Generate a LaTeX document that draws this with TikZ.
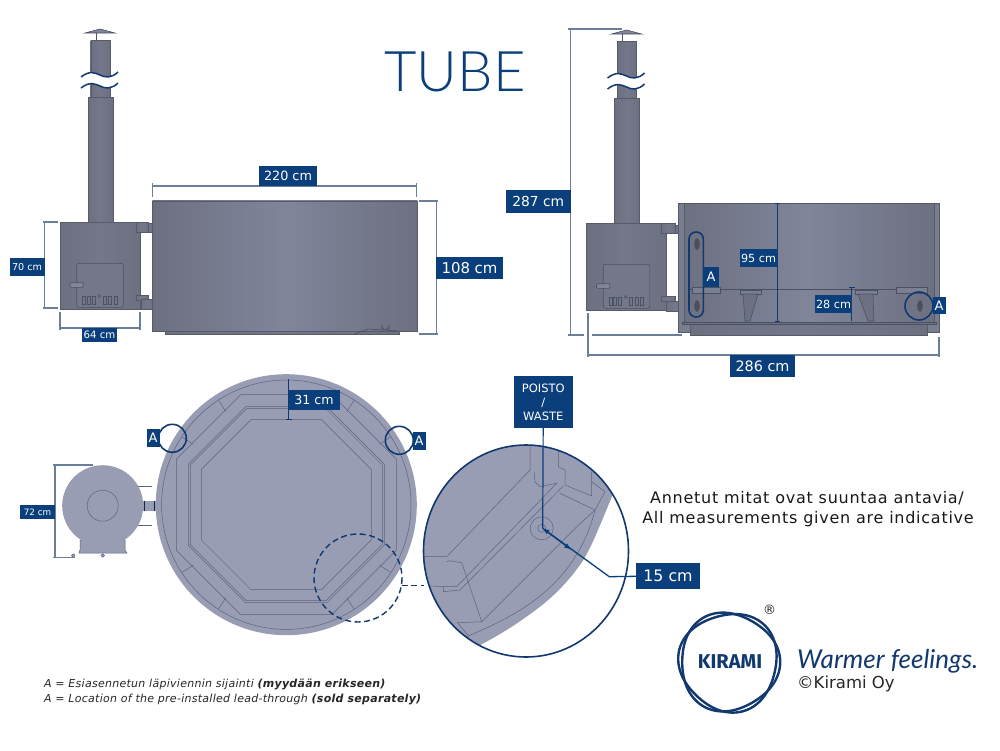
\documentclass[tikz,border=0pt]{standalone}
\usepackage{fontspec}
\setmainfont{DejaVu Sans}
\newfontfamily\titlefont{Lato}[UprightFont=* Light,ItalicFont=* Italic]
\newfontfamily\logofont{Fira Sans}
\usepackage{xcolor}
\usepackage{tikz}
\definecolor{kiramiblue}{HTML}{0B3F7C}
\definecolor{ringblue}{HTML}{12396F}
\definecolor{tubedark}{HTML}{6D7081}
\definecolor{tubelight}{HTML}{80859A}
\definecolor{planfill}{HTML}{989DB3}
\definecolor{planline}{HTML}{5A6380}
\definecolor{steelline}{HTML}{4C5063}
\definecolor{dimline}{HTML}{6A7F9C}
\tikzset{
  dimbox/.style={fill=kiramiblue,text=white,inner sep=0pt,align=center,font=\fontsize{#1}{#1}\selectfont},
  dimline/.style={draw=dimline,line width=1.1pt},
  steel/.style={left color=tubedark,right color=tubedark,middle color=tubelight,draw=tubedark!80!black,line width=0.4pt},
  stovesteel/.style={left color=tubedark,right color=tubedark,middle color=tubedark!65!tubelight,draw=tubedark!80!black,line width=0.4pt},
  thinline/.style={draw=planline,line width=0.5pt},
  steelthin/.style={draw=steelline,line width=0.6pt},
  ringline/.style={draw=ringblue,line width=1.6pt}
}
\newcommand{\stovechimney}{
  \draw[steelthin,fill=tubelight] (85,33) -- (100,29) -- (115,33) -- cycle;
  \draw[steelthin] (96,33) -- (96,46);
  \fill[stovesteel] (90.7,40) rectangle (110,97);
  \fill[stovesteel] (88,97) rectangle (112.7,222);
  \fill[stovesteel] (60,222) rectangle (140,309);
  \draw[steelthin,rounded corners=2pt,fill=tubedark!65!tubelight] (76.7,263.3) rectangle (123.3,307.3);
  \draw[steelthin,rounded corners=1pt,fill=tubelight] (70,282.7) rectangle (83.3,287.3);
  \foreach \vx in {82.3,87,92,103,108.3,114}
    \draw[steelthin] (\vx,296) rectangle ++(3,8);
  \draw[steelthin] (99.3,296) circle (1.5);
  \fill[white] (81,77) .. controls (90,70) and (95,73) .. (100,75) .. controls (105,78) and (112,78) .. (118,72)
    -- (118,83) .. controls (112,89) and (105,89) .. (100,86) .. controls (95,84) and (90,81) .. (81,88) -- cycle;
  \draw[ringblue,line width=1.5pt] (81,77) .. controls (90,70) and (95,73) .. (100,75) .. controls (105,78) and (112,78) .. (118,72);
  \draw[ringblue,line width=1.5pt] (81,88) .. controls (90,81) and (95,84) .. (100,86) .. controls (105,89) and (112,89) .. (118,83);
}
\begin{document}
\begin{tikzpicture}[x=1pt,y=-1pt]
  \useasboundingbox (0,0) rectangle (1000,750);
  \fill[white] (0,0) rectangle (1000,750);
  \node[text=kiramiblue,font=\titlefont\fontsize{56}{56}\selectfont] (title) at (455,72) {TUBE};

  \stovechimney
  \fill[stovesteel] (136,222) rectangle (148,232);
  \fill[stovesteel] (148,223) rectangle (152.3,232);
  \fill[stovesteel] (136,295) rectangle (148,300);
  \fill[stovesteel] (141,299) rectangle (153,309);
  \fill[stovesteel] (165,331) rectangle (399,334);
  \fill[steel] (152.3,200.7) rectangle (417.3,331);
  \draw[steelthin] (382,331) -- (382,326) arc (180:0:3.5) -- (389,331);
  \draw[steelthin] (355,334) -- (368,329) -- (399,331);

  \draw[dimline] (152.5,183) -- (152.5,197);
  \draw[dimline] (416.5,183) -- (416.5,197);
  \draw[dimline] (152.5,186) -- (416.5,186);
  \node[dimbox=12.8,minimum width=58pt,minimum height=20pt] (w220) at (288,176) {220 cm};
  \draw[dimline] (419,201) -- (438,201);
  \draw[dimline] (419,334) -- (438,334);
  \draw[dimline] (436.7,201) -- (436.7,334);
  \node[dimbox=14.9,minimum width=67pt,minimum height=22pt] (h108) at (469.5,268) {108 cm};
  \draw[dimline] (43,222) -- (58,222);
  \draw[dimline] (43,308) -- (58,308);
  \draw[dimline] (44.3,222) -- (44.3,308);
  \node[dimbox=9.6,minimum width=35pt,minimum height=18pt] (h70) at (27,267) {70 cm};
  \draw[dimline] (60,312) -- (60,330);
  \draw[dimline] (140,312) -- (140,330);
  \draw[dimline] (60,328) -- (140,328);
  \node[dimbox=10.2,minimum width=35pt,minimum height=14pt] (w64) at (99.5,335) {64 cm};

  \begin{scope}[shift={(526.5,1)}]
    \stovechimney
  \end{scope}
  \fill[stovesteel] (661,223) rectangle (675,233);
  \fill[stovesteel] (675,225) rectangle (684,233);
  \fill[stovesteel] (661,296) rectangle (675,301);
  \fill[stovesteel] (666,301) rectangle (684,311);
  \draw[draw=tubedark!80!black,line width=0.4pt,fill=tubelight!60!tubedark] (678,203) rectangle (939,332);
  \fill[steel] (684,203) rectangle (934,322);
  \fill[stovesteel] (690,324) rectangle (927,335);
  \draw[steelthin,fill=tubedark] (682,322) rectangle (936,324);
  \draw[steelthin] (690,289) -- (927,289);
  \foreach \fx/\fw in {692/28,896/31}
    \draw[steelthin,fill=tubelight!70!tubedark] (\fx,287) rectangle ++(\fw,6);
  \draw[steelthin,fill=tubelight!70!tubedark] (740,290) rectangle (761,294);
  \draw[steelthin,fill=tubedark] (743,294) -- (758,294) -- (750,321) -- (745,321) -- cycle;
  \draw[steelthin,fill=tubelight!70!tubedark] (855,290) rectangle (877,294);
  \draw[steelthin,fill=tubedark] (858,294) -- (873,294) -- (874,321) -- (868,321) -- cycle;
  \foreach \hx/\hy in {697/244,697/306,920/306}
    \draw[steelthin,fill=tubedark!70!black] (\hx,\hy) ellipse (2.5 and 5.5);

  \draw[ringline,rounded corners=7pt] (689,232) rectangle (703.3,317);
  \node[dimbox=13,minimum width=16pt,minimum height=20pt] (a1) at (711,277) {A};
  \draw[ringline] (919,306) circle (14);
  \node[dimbox=13,minimum width=13pt,minimum height=17pt] (a2) at (939,305.5) {A};
  \draw[draw=ringblue,line width=1pt] (775,203) -- (780,203) (777.7,203) -- (777.7,321) (775,321) -- (780,321);
  \node[dimbox=11.2,minimum width=37pt,minimum height=18pt] (h95) at (758.5,258) {95 cm};
  \draw[draw=ringblue,line width=1pt] (849,287) -- (855,287) (851.7,287) -- (851.7,321);
  \node[dimbox=11.2,minimum width=37pt,minimum height=18pt] (h28) at (833.5,304) {28 cm};
  \draw[dimline] (568,29) -- (622,29);
  \draw[dimline] (568,335) -- (584,335);
  \draw[dimline] (592,335) -- (682,335);
  \draw[dimline] (570.3,29) -- (570.3,335);
  \node[dimbox=13.8,minimum width=65pt,minimum height=23pt] (h287) at (538.3,201.5) {287 cm};
  \draw[dimline] (588,313) -- (588,357);
  \draw[dimline] (939,337) -- (939,357);
  \draw[dimline] (588,355) -- (939,355);
  \node[dimbox=14.4,minimum width=65pt,minimum height=22pt] (w286) at (762.5,366) {286 cm};

  \draw[thinline,fill=planfill] (80,540) -- (125,540) -- (125,550) -- (127,553) -- (79,553) -- (80,550) -- cycle;
  \fill[planfill] (102.7,505.7) circle (40.5);
  \draw[thinline] (102.7,505.7) circle (15.5);
  \foreach \fx in {73.3,102.7}
    \draw[thinline,fill=planfill] (\fx,555.5) circle (1.8);
  \draw[thinline] (138,486) -- (152,486);
  \draw[thinline] (138,525) -- (152,525);
  \fill[planfill] (143.3,500.7) rectangle (156,511);
  \draw[ringblue!70!black,line width=1.2pt] (144.5,500.7) -- (144.5,511) (154.5,500.7) -- (154.5,511);
  \draw[dimline] (53,465) -- (92.7,465);
  \draw[dimline] (53,557.7) -- (75,557.7);
  \draw[dimline] (55,465) -- (55,557.7);
  \node[dimbox=8.8,minimum width=35pt,minimum height=14pt] (w72) at (37.5,512) {72 cm};

  \fill[planfill] (286.3,504.7) circle (130.5);
  \draw[thinline] (286.3,504.7) circle (124.7);
  \foreach \ap in {110,98,96,85}
    \draw[thinline,samples=9,domain=22.5:382.5,variable=\t]
    plot ({286.3+\ap*1.0824*cos(\t)},{504.7+\ap*1.0824*sin(\t)}) -- cycle;
  \foreach \tk in {45,135,225,315}{
    \draw[thinline] (\tk-12:111) ++(286.3,504.7) -- ++(\tk-12:13);
    \draw[thinline] (\tk+12:111) ++(286.3,504.7) -- ++(\tk+12:13);
  }
  \draw[dimline,draw=ringblue] (288.7,379.3) -- (288.7,419.3);
  \draw[dimline,draw=ringblue] (285.5,419.3) -- (292,419.3);
  \node[dimbox=12.6,minimum width=51pt,minimum height=20pt] (d31) at (314,400) {31 cm};
  \draw[ringline] (172.3,438.3) circle (14);
  \node[dimbox=13,minimum width=13pt,minimum height=18pt] (a3) at (153,438) {A};
  \draw[ringline] (399.3,440.3) circle (14);
  \node[dimbox=13,minimum width=13pt,minimum height=18pt] (a4) at (419,440.5) {A};

  \draw[ringblue,line width=1.4pt,dash pattern=on 6pt off 3.5pt] (358,578) circle (44);
  \coordinate (linka) at (401.7,585.7);
  \coordinate (linkb) at (424,585.7);
  \draw[ringblue,line width=1.4pt,dash pattern=on 6pt off 3.5pt] (linka) -- (linkb);

  \begin{scope}
    \clip (526,551) ellipse (102.5 and 106);
    \fill[planfill] (420,440) -- (613.3,440) -- (613.3,493.3) .. controls (600,525) and (592,546) .. (583.3,560)
      .. controls (570,580) and (555,595) .. (540,606.7) .. controls (520,622) and (500,635) .. (480,645)
      -- (420,665) -- cycle;
    \draw[thinline] (423,556.7) -- (446.7,556.7) -- (530,470) -- (530,440);
    \draw[thinline] (425,586) -- (456.7,586.7) -- (556.7,483.3) -- (540,486.7) -- (535,481.7) -- (534,471.7);
    \draw[thinline] (460,590) -- (563.3,486);
    \draw[thinline] (443.3,586.7) -- (443.3,591.7) -- (460,590);
    \draw[thinline] (446.7,561.7) -- (450,560.7) -- (461.7,562.7) -- (481.7,621.7) -- (458.3,622.7);
    \draw[thinline] (481.7,621.7) -- (576.7,526.7) -- (595,510);
    \draw[thinline] (560,493.3) -- (595,510) -- (605,491.7);
    \draw[thinline] (558.3,440) -- (558.3,466.7) -- (565,470) -- (565,485) -- (591.7,496) -- (591.7,471.7);
    \draw[thinline] (591.7,481.7) -- (605,491.7);
    \draw[thinline] (466.7,636.7) .. controls (510,618) and (575,590) .. (595,510);
    \draw[thinline] (456.7,621.7) -- (468.3,635.7);
    \draw[thinline] (541.7,528.3) circle (4);
    \draw[thinline] (541.7,528.3) circle (11.5);
  \end{scope}
  \draw[ringline] (526,551) ellipse (102.5 and 106);

  \coordinate (hole) at (542.7,528.3);
  \coordinate (bend) at (609.3,576.7);
  \node[dimbox=11.5,minimum width=59pt,minimum height=52pt,font=\fontsize{11.5}{14}\selectfont] (waste) at (543.3,402) {POISTO\\/\\WASTE};
  \node[dimbox=15.8,minimum width=64pt,minimum height=26pt] (d15) at (668,576.3) {15 cm};
  \draw[kiramiblue,line width=1.2pt] (waste) -- (hole);
  \draw[kiramiblue,line width=1.3pt,-latex] (d15.west) -- (bend) -- (hole);
  \draw[kiramiblue,line width=1.3pt,-latex] (hole) -- (571,549.5);

  \node[font=\addfontfeature{LetterSpace=4.6}\fontsize{16}{16}\selectfont,text=black!90] (note1) at (807,498) {Annetut mitat ovat suuntaa antavia/};
  \node[font=\addfontfeature{LetterSpace=4.6}\fontsize{16}{16}\selectfont,text=black!90] (note2) at (808,519) {All measurements given are indicative};
  \node[anchor=west,inner sep=0pt,text=black!85,font=\fontsize{11}{11}\selectfont\itshape\addfontfeature{LetterSpace=2.5}] (foot1) at (44,684.5) {A = Esiasennetun läpiviennin sijainti \textbf{(myydään erikseen)}};
  \node[anchor=west,inner sep=0pt,text=black!85,font=\fontsize{11}{11}\selectfont\itshape\addfontfeature{LetterSpace=2.5}] (foot2) at (44,699.5) {A = Location of the pre-installed lead-through \textbf{(sold separately)}};

  \draw[ringblue,line width=2.4pt,domain=0:360,samples=90,smooth,variable=\t]
  plot ({729+49*(1+0.045*cos(3*\t))*cos(\t)},{662+49*(1+0.045*cos(3*\t))*sin(\t)});
  \draw[ringblue,line width=2.4pt,domain=0:360,samples=90,smooth,variable=\t]
  plot ({729+49*(1-0.045*cos(3*\t-40))*cos(\t)},{662+49*(1-0.045*cos(3*\t-40))*sin(\t)});
  \node[text=ringblue,font=\logofont\bfseries\fontsize{20}{20}\selectfont] (kirami) at (730,662) {KIRAMI};
  \node[font=\fontsize{13}{13}\selectfont,text=black!85] (regmark) at (769.5,610) {®};
  \node[anchor=west,inner sep=0pt,text=ringblue,font=\titlefont\itshape\fontsize{26}{26}\selectfont] (slogan) at (797,661) {Warmer feelings.};
  \node[anchor=west,inner sep=0pt,text=black!85,font=\fontsize{16.5}{16.5}\selectfont] (copy) at (797,684) {©Kirami Oy};
\end{tikzpicture}
\end{document}
